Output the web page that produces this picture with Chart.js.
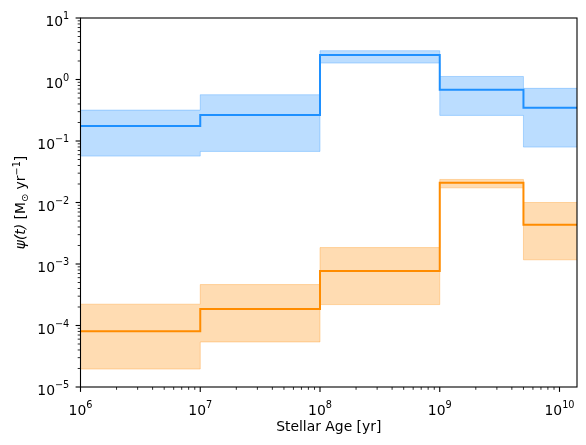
<!DOCTYPE html>
<html lang="en">
<head>
  <meta charset="UTF-8">
  <title>Star formation history</title>
  <script src="https://cdn.jsdelivr.net/npm/chart.js"></script>
  <style>
    body {
      margin: 0;
      padding: 0;
      background: white;
    }
    #sfh {
      display: block;
    }
  </style>
</head>
<body>
<canvas id="sfh" width="586" height="445"></canvas>

<script>
  // bin edges in years (step-post)
  const ageEdges = [1e6, 1e7, 1e8, 1e9, 5e9, 1.4e10];

  // blue component
  const blueSfr  = [0.175, 0.264, 2.5, 0.68, 0.347];
  const blueHigh = [0.318, 0.565, 2.94, 1.12, 0.718];
  const blueLow  = [0.0568, 0.0677, 1.85, 0.261, 0.0796];

  // orange component
  const orangeSfr  = [8.05e-5, 1.86e-4, 7.7e-4, 0.0209, 4.33e-3];
  const orangeHigh = [2.22e-4, 4.63e-4, 1.85e-3, 0.0237, 0.01];
  const orangeLow  = [1.96e-5, 5.4e-5, 2.19e-4, 0.0173, 1.17e-3];

  const xRange = [1e6, 1.4e10];
  const yRange = [1e-5, 1e1];

  const FONT = "'DejaVu Sans', sans-serif";
  const FS = 13.9;
  const SS = FS * 0.7;

  function stepData(vals) {
    const pts = vals.map((v, i) => ({ x: ageEdges[i], y: v }));
    pts.push({ x: ageEdges[ageEdges.length - 1], y: vals[vals.length - 1] });
    return pts;
  }

  function isMajor(v) {
    const l = Math.log10(v);
    return Math.abs(l - Math.round(l)) < 1e-9;
  }

  function expText(v) {
    return String(Math.round(Math.log10(v))).replace('-', '\u2212');
  }

  function logTicks(scale) {
    const min = scale.min, max = scale.max;
    const ticks = [];
    for (let e = Math.floor(Math.log10(min)); e <= Math.ceil(Math.log10(max)); e++) {
      for (let m = 1; m <= 9; m++) {
        const v = m * Math.pow(10, e);
        if (v >= min * 0.9999 && v <= max * 1.0001) ticks.push({ value: v });
      }
    }
    scale.ticks = ticks;
  }

  // draw a run of text pieces (size factor, vertical shift, style) starting at x
  function drawPieces(ctx, pieces, x, y) {
    pieces.forEach(p => {
      ctx.font = (p.italic ? 'italic ' : '') + (p.small ? SS : FS) + 'px ' + FONT;
      ctx.fillText(p.t, x, y + (p.dy || 0));
      x += ctx.measureText(p.t).width;
    });
  }
  function piecesWidth(ctx, pieces) {
    let w = 0;
    pieces.forEach(p => {
      ctx.font = (p.italic ? 'italic ' : '') + (p.small ? SS : FS) + 'px ' + FONT;
      w += ctx.measureText(p.t).width;
    });
    return w;
  }

  // spines, tick marks, power-of-ten labels and y title, matplotlib style
  const frame = {
    id: 'frame',
    afterDraw(chart) {
      const ctx = chart.ctx;
      const a = chart.chartArea;
      ctx.save();
      ctx.strokeStyle = '#000';
      ctx.fillStyle = '#000';
      ctx.lineWidth = 1.1;
      ctx.strokeRect(a.left, a.top, a.right - a.left, a.bottom - a.top);
      ctx.textBaseline = 'alphabetic';
      ctx.textAlign = 'left';

      const xs = chart.scales.x, ys = chart.scales.y;
      xs.ticks.forEach(t => {
        const px = xs.getPixelForValue(t.value);
        const major = isMajor(t.value);
        ctx.lineWidth = major ? 1.1 : 0.83;
        ctx.beginPath();
        ctx.moveTo(px, a.bottom);
        ctx.lineTo(px, a.bottom + (major ? 4.9 : 2.8));
        ctx.stroke();
        if (major) {
          const pcs = [{ t: '10' }, { t: expText(t.value), small: true, dy: -7 }];
          const w = piecesWidth(ctx, pcs);
          drawPieces(ctx, pcs, px - w / 2, a.bottom + 28.3);
        }
      });
      ys.ticks.forEach(t => {
        const py = ys.getPixelForValue(t.value);
        const major = isMajor(t.value);
        ctx.lineWidth = major ? 1.1 : 0.83;
        ctx.beginPath();
        ctx.moveTo(a.left, py);
        ctx.lineTo(a.left - (major ? 4.9 : 2.8), py);
        ctx.stroke();
        if (major) {
          const pcs = [{ t: '10' }, { t: expText(t.value), small: true, dy: -7 }];
          const w = piecesWidth(ctx, pcs);
          drawPieces(ctx, pcs, a.left - 11.2 - w, py + 8);
        }
      });

      // y axis title
      const title = [
        { t: 'ψ(t)', italic: true },
        { t: ' [M' },
        { t: '⊙', small: true, dy: 2.5 },
        { t: ' yr' },
        { t: '\u22121', small: true, dy: -5.5 },
        { t: ']' }
      ];
      const tw = piecesWidth(ctx, title);
      ctx.translate(25, (a.top + a.bottom) / 2);
      ctx.rotate(-Math.PI / 2);
      drawPieces(ctx, title, -tw / 2, 0);
      ctx.restore();
    }
  };

  const blueBand = 'rgba(30, 144, 255, 0.3)';
  const orangeBand = 'rgba(255, 140, 0, 0.3)';

  new Chart(document.getElementById('sfh'), {
    type: 'line',
    data: {
      datasets: [
        { data: stepData(blueHigh), borderColor: blueBand, borderWidth: 1, backgroundColor: blueBand, fill: '+1', order: 4 },
        { data: stepData(blueLow), borderColor: blueBand, borderWidth: 1, fill: false, order: 4 },
        { data: stepData(blueSfr), borderColor: '#1e90ff', borderWidth: 2, fill: false, order: 3 },
        { data: stepData(orangeHigh), borderColor: orangeBand, borderWidth: 1, backgroundColor: orangeBand, fill: '+1', order: 2 },
        { data: stepData(orangeLow), borderColor: orangeBand, borderWidth: 1, fill: false, order: 2 },
        { data: stepData(orangeSfr), borderColor: '#ff8c00', borderWidth: 2, fill: false, order: 1 }
      ]
    },
    options: {
      responsive: false,
      animation: false,
      events: [],
      layout: { padding: { top: 18, right: 9, left: 0, bottom: 0 } },
      elements: {
        point: { radius: 0 },
        line: { stepped: true, tension: 0 }
      },
      plugins: {
        legend: { display: false },
        tooltip: { enabled: false }
      },
      scales: {
        x: {
          type: 'logarithmic',
          min: xRange[0],
          max: xRange[1],
          afterBuildTicks: logTicks,
          afterFit: s => { s.height = 58; },
          grid: { display: false },
          border: { display: false },
          ticks: { display: false },
          title: {
            display: true,
            text: 'Stellar Age [yr]',
            color: '#000',
            font: { family: FONT, size: FS },
            padding: { top: 0, bottom: 9 }
          }
        },
        y: {
          type: 'logarithmic',
          min: yRange[0],
          max: yRange[1],
          afterBuildTicks: logTicks,
          afterFit: s => { s.width = 80.5; },
          grid: { display: false },
          border: { display: false },
          ticks: { display: false }
        }
      }
    },
    plugins: [frame]
  });
</script>
</body>
</html>
